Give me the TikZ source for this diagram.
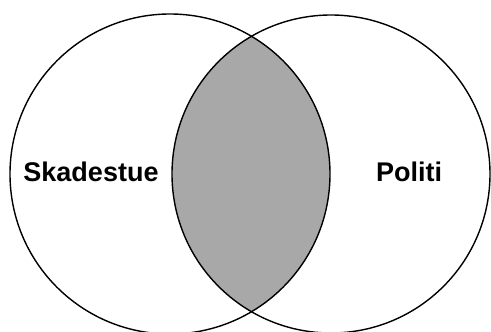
\documentclass[tikz,border=0pt]{standalone}
\usepackage{fontspec}
\setmainfont{Liberation Sans}
\begin{document}
\begin{tikzpicture}[x=1pt,y=-1pt,
  ring/.style={draw=black,line width=1.4pt},
  lens/.style={fill=gray!68},
  lbl/.style={font=\fontsize{27}{30}\selectfont\bfseries,inner sep=0pt}]
\useasboundingbox (0,0) rectangle (491,332);
\coordinate (cl) at (170,174);
\coordinate (cr) at (331,174);
\begin{scope}
  \clip (cl) circle[radius=160];
  \fill[lens] (cr) circle[radius=159];
\end{scope}
\draw[ring] (cl) circle[radius=160];
\draw[ring] (cr) circle[radius=159];
\node[lbl] (a) at (91,172) {Skadestue};
\node[lbl] (b) at (409,172) {Politi};
\end{tikzpicture}
\end{document}
